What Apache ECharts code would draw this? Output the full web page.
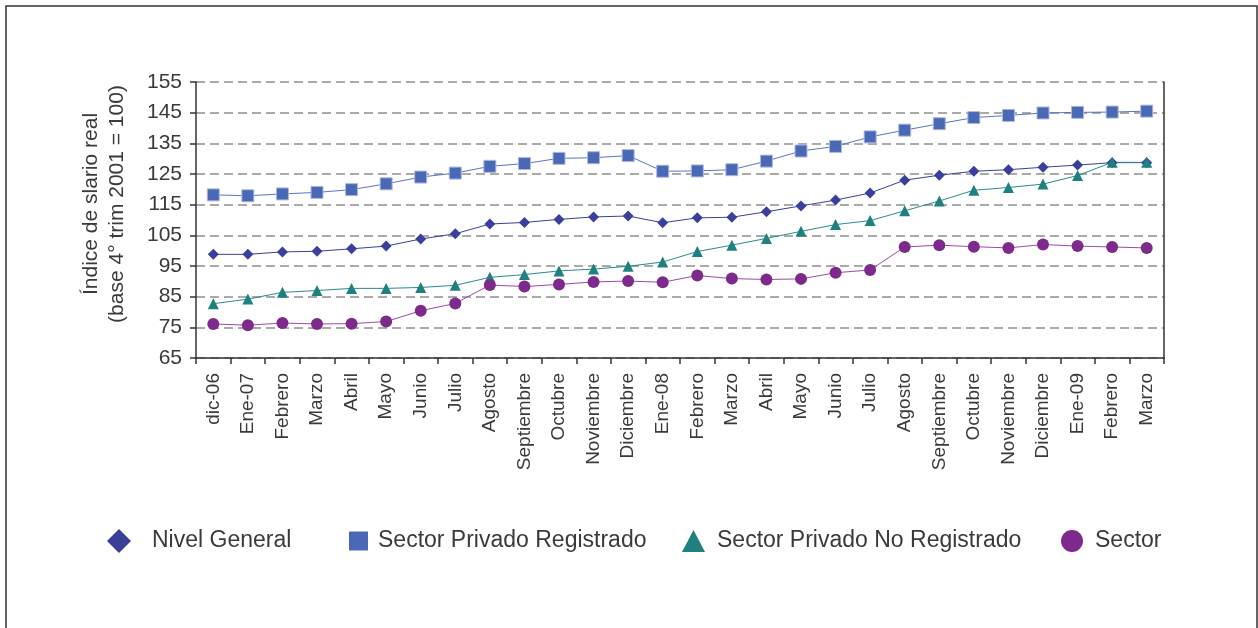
<!DOCTYPE html>
<html>
<head>
<meta charset="utf-8">
<script src="https://cdn.jsdelivr.net/npm/echarts@6/dist/echarts.min.js"></script>
<style>
html,body{margin:0;padding:0;background:#fff;}
#chart{width:1258px;height:628px;}
</style>
</head>
<body>
<div id="chart"></div>
<script>
const categories = ['dic-06','Ene-07','Febrero','Marzo','Abril','Mayo','Junio','Julio','Agosto','Septiembre','Octubre','Noviembre','Diciembre','Ene-08','Febrero','Marzo','Abril','Mayo','Junio','Julio','Agosto','Septiembre','Octubre','Noviembre','Diciembre','Ene-09','Febrero','Marzo'];
const nivelGeneral = [98.8, 98.8, 99.6, 99.8, 100.6, 101.5, 103.8, 105.5, 108.7, 109.2, 110.2, 111.0, 111.3, 109.1, 110.7, 110.9, 112.7, 114.6, 116.5, 118.8, 123.0, 124.6, 125.9, 126.4, 127.2, 127.9, 128.7, 128.7];
const privadoRegistrado = [118.2, 117.9, 118.5, 119.0, 119.9, 121.8, 124.0, 125.3, 127.5, 128.4, 130.1, 130.3, 131.0, 125.9, 126.0, 126.4, 129.2, 132.5, 134.0, 137.1, 139.3, 141.4, 143.4, 144.1, 144.9, 145.1, 145.2, 145.5];
const privadoNoRegistrado = [82.7, 84.2, 86.4, 87.0, 87.7, 87.7, 88.0, 88.7, 91.3, 92.2, 93.4, 94.0, 94.9, 96.3, 99.7, 101.8, 104.0, 106.3, 108.5, 109.8, 113.0, 116.2, 119.7, 120.6, 121.7, 124.5, 128.8, 128.8];
const sectorPublico = [76.1, 75.7, 76.4, 76.1, 76.2, 76.9, 80.4, 82.8, 88.8, 88.3, 89.0, 89.8, 90.1, 89.7, 91.9, 90.9, 90.6, 90.8, 92.8, 93.7, 101.2, 101.8, 101.3, 100.9, 102.0, 101.5, 101.2, 100.9];
const seriesNames = ['Nivel General', 'Sector Privado Registrado', 'Sector Privado No Registrado', 'Sector'];
const yTitle = 'Índice de slario real\n(base 4° trim 2001 = 100)';

const FONT = '"Liberation Sans", Arial, Helvetica, sans-serif';
const TXT = '#3a3a3a';
const chart = echarts.init(document.getElementById('chart'), null, {renderer: 'canvas'});

function legendAt(name, left, icon, w, h, pad) {
  return {
    data: [name], left: left, top: 529, icon: icon,
    itemWidth: w, itemHeight: h, padding: 0,
    itemStyle: {borderWidth: 0},
    textStyle: {fontFamily: FONT, fontSize: 23, color: TXT, lineHeight: 24, padding: [0, 0, 0, pad]}
  };
}

const option = {
  backgroundColor: '#ffffff',
  animation: false,
  graphic: [{
    type: 'rect', silent: true,
    shape: {x: 6, y: 6, width: 1251, height: 700},
    style: {fill: 'none', stroke: '#333333', lineWidth: 1.5}
  }],
  legend: [
    legendAt(seriesNames[0], 107, 'diamond', 24, 24, 16),
    legendAt(seriesNames[1], 349, 'rect', 19, 19, 5),
    legendAt(seriesNames[2], 682, 'triangle', 23, 22, 7),
    legendAt(seriesNames[3], 1061, 'circle', 22, 22, 7)
  ],
  grid: {left: 196, right: 94, top: 82, bottom: 270, containLabel: false},
  xAxis: {
    type: 'category', data: categories, boundaryGap: true,
    axisLine: {lineStyle: {color: '#333', width: 1.5}},
    axisTick: {show: true, length: 6, lineStyle: {color: '#333', width: 1.5}},
    axisLabel: {rotate: 90, interval: 0, margin: 15, fontFamily: FONT, fontSize: 19, color: TXT},
    splitLine: {show: false}
  },
  yAxis: [{
    type: 'value', min: 65, max: 155, interval: 10,
    name: yTitle, nameLocation: 'middle', nameRotate: 90, nameGap: 66,
    nameTextStyle: {fontFamily: FONT, fontSize: 21, color: TXT, lineHeight: 26, padding: [0, 0, 0, 32]},
    axisLine: {show: true, lineStyle: {color: '#333', width: 1.5}},
    axisTick: {show: true, length: 6, lineStyle: {color: '#333', width: 1.5}},
    axisLabel: {margin: 14, fontFamily: FONT, fontSize: 21, color: TXT},
    splitLine: {show: true, lineStyle: {color: '#8f8f8f', width: 1.5, type: [9, 5]}}
  }, {
    type: 'value', min: 65, max: 155, interval: 10, position: 'right',
    axisLine: {show: true, lineStyle: {color: '#333', width: 1.5}},
    axisTick: {show: false}, axisLabel: {show: false}, splitLine: {show: false}
  }],
  series: [
    {name: seriesNames[0], type: 'line', data: nivelGeneral, symbol: 'diamond', symbolSize: 11,
     itemStyle: {color: '#3b3f9c'}, lineStyle: {color: '#3b3f9c', width: 1}},
    {name: seriesNames[1], type: 'line', data: privadoRegistrado, symbol: 'rect', symbolSize: 12,
     itemStyle: {color: '#4a68b5', borderColor: '#a9b9e0', borderWidth: 1}, lineStyle: {color: '#5877c0', width: 1}},
    {name: seriesNames[2], type: 'line', data: privadoNoRegistrado, symbol: 'triangle', symbolSize: 11,
     itemStyle: {color: '#1f8080'}, lineStyle: {color: '#2a8c8c', width: 1}},
    {name: seriesNames[3], type: 'line', data: sectorPublico, symbol: 'circle', symbolSize: 12,
     itemStyle: {color: '#7d2a8c'}, lineStyle: {color: '#9a4aa8', width: 1}}
  ]
};
chart.setOption(option);
</script>
</body>
</html>
